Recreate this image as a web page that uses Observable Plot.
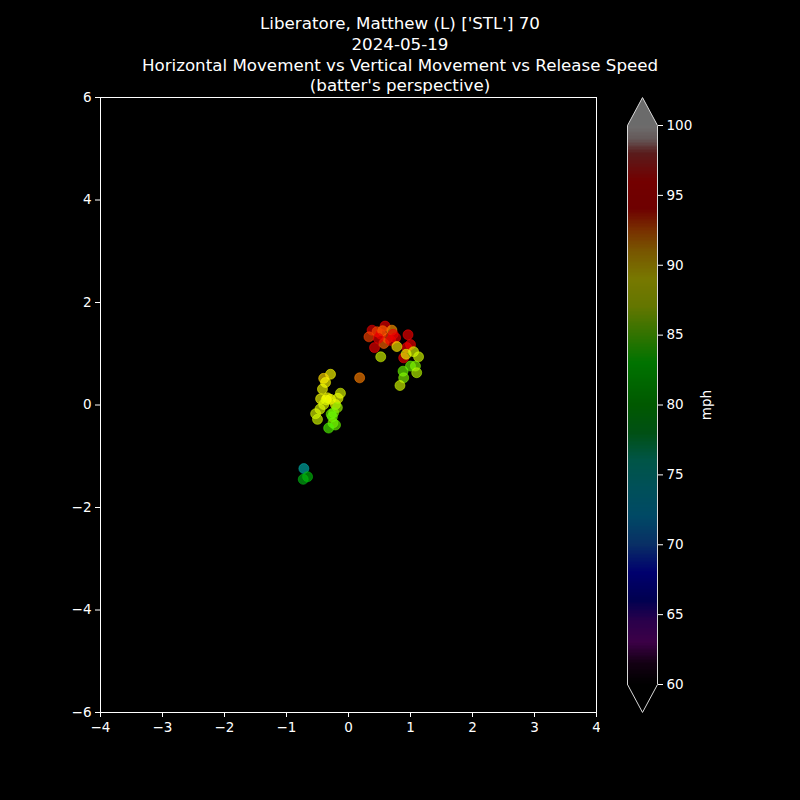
<!DOCTYPE html>
<html>
<head>
<meta charset="utf-8">
<script src="https://cdn.jsdelivr.net/npm/d3@7"></script>
<script src="https://cdn.jsdelivr.net/npm/@observablehq/plot@0.6"></script>
<style>
  html, body { margin: 0; padding: 0; background: #000; }
  #wrap { position: relative; width: 800px; height: 800px; background: #000; overflow: hidden; }
  #title { position: absolute; left: 0; top: 13px; width: 800px; text-align: center; color: #fff;
           font-family: "DejaVu Sans", sans-serif; font-size: 16.7px; line-height: 20.8px; z-index: 2; }
  #main, #cbar { position: absolute; top: 0; }
  #main { left: 0; }
  #cbar { left: 600px; }
</style>
</head>
<body>
<div id="wrap">
  <div id="title">Liberatore, Matthew (L) ['STL'] 70<br>2024-05-19<br>Horizontal Movement vs Vertical Movement vs Release Speed<br>(batter's perspective)</div>
  <div id="main"></div>
  <div id="cbar"></div>
</div>
<script>
// ---- data ----
const hMov = [0.38, 0.46, 0.59, 0.70, 0.33, 0.42, 0.52, 0.63, 0.57, 0.68, 0.76, 0.96, 1.00, 0.94, 0.78, 0.89, 0.93, 1.05, 1.13, 0.52, 0.88, 1.00, 1.08, 1.10, 0.89, 0.83, 0.18, 0.55, 0.48, 0.72,
  -0.29, -0.40, -0.37, -0.42, -0.13, -0.45, -0.34, -0.29, -0.36, -0.17, -0.21, -0.40, -0.18, -0.46, -0.24, -0.53, -0.26, -0.50, -0.25, -0.21, -0.32, -0.28,
  -0.72, -0.73, -0.66];
const vMov = [1.46, 1.43, 1.54, 1.46, 1.33, 1.12, 1.38, 1.30, 1.20, 1.26, 1.31, 1.37, 1.18, 1.12, 1.14, 0.92, 0.99, 1.04, 0.94, 0.94, 0.66, 0.76, 0.76, 0.63, 0.53, 0.38, 0.53, 1.45, 1.30, 1.38,
  0.60, 0.52, 0.44, 0.31, 0.23, 0.12, 0.14, 0.11, 0.10, 0.13, 0.01, 0.01, -0.05, -0.08, -0.15, -0.17, -0.23, -0.28, -0.35, -0.39, -0.45, -0.18,
  -1.24, -1.45, -1.40];
const speed = [94, 93, 95, 91.5, 93, 96, 95, 93, 92.5, 94, 95, 96, 95, 95.5, 89.5, 95.5, 88, 87.5, 87, 87, 85, 85, 85.5, 86.5, 85.5, 87, 92, 92.5, 94.5, 94,
  89, 90, 89, 88.5, 87.5, 88.5, 88.5, 88.5, 88.7, 88, 88, 87.5, 86, 87.5, 85.5, 87.5, 85, 87, 85.5, 85, 84.5, 85,
  75, 79, 79.5];

const xTicks = [-4, -3, -2, -1, 0, 1, 2, 3, 4];
const yTicks = [-6, -4, -2, 0, 2, 4, 6];
const cbTicks = [60, 65, 70, 75, 80, 85, 90, 95, 100];

// colormap stops (mph) and colours
const cStops  = [60, 61.5, 63, 64.5, 66, 68, 70, 72, 74, 76, 78, 80, 83, 85, 87, 89, 91, 92.5, 94, 96, 98, 99, 100];
const cColors = ["#000000", "#280028", "#800096", "#5a00a0", "#0000aa", "#0000eb", "#1464d7", "#009bd7", "#00aabe",
  "#00b496", "#00aa28", "#00be00", "#00f500", "#6af500", "#d2fa00", "#ffff00", "#ffb400", "#ff6400", "#eb0000",
  "#f50000", "#be3c3c", "#d7bebe", "#ebebeb"];
// ---------------------------------------

const pitches = hMov.map((h, i) => ({h, v: vMov[i], s: speed[i]}));
const fmt = d3.format("d");
const font = {background: "black", color: "white", fontFamily: "DejaVu Sans, sans-serif", fontSize: "13.5px", overflow: "visible"};

const main = Plot.plot({
  width: 800, height: 800,
  marginLeft: 100, marginRight: 204, marginTop: 97, marginBottom: 88,
  style: font,
  x: {domain: [-4, 4], ticks: xTicks, tickFormat: fmt, tickSize: 5, tickPadding: 5, label: null},
  y: {domain: [-6, 6], ticks: yTicks, tickFormat: fmt, tickSize: 5, tickPadding: 4, label: null},
  color: {type: "linear", domain: cStops, range: cColors, clamp: true},
  marks: [
    Plot.frame({stroke: "white", strokeWidth: 1}),
    Plot.dot(pitches, {x: "h", y: "v", fill: "s", stroke: "s", r: 5, fillOpacity: 0.65, strokeOpacity: 0.55, strokeWidth: 1})
  ]
});
document.getElementById("main").appendChild(main);

// colour bar
const dim = cColors.map(c => { const k = d3.rgb(c); return d3.rgb(k.r * 0.47, k.g * 0.47, k.b * 0.47).formatHex(); });
const bands = d3.range(60, 100, 0.1).map(lo => ({lo, hi: Math.min(100, lo + 0.13), c: lo + 0.05}));
const topTri = [{x: 0, y: 100}, {x: 0.5, y: 102}, {x: 1, y: 100}];
const botTri = [{x: 0, y: 60}, {x: 0.5, y: 58}, {x: 1, y: 60}];
const outline = [{x: 0, y: 60}, {x: 0, y: 100}, {x: 0.5, y: 102}, {x: 1, y: 100}, {x: 1, y: 60}, {x: 0.5, y: 58}, {x: 0, y: 60}];

const cbar = Plot.plot({
  width: 200, height: 800,
  marginLeft: 27, marginRight: 143, marginTop: 125, marginBottom: 116,
  style: font,
  x: {domain: [0, 1], axis: null},
  y: {domain: [60, 100], axis: "right", ticks: cbTicks, tickFormat: fmt, tickSize: 5, tickPadding: 4, label: null},
  color: {type: "linear", domain: cStops, range: dim, clamp: true},
  marks: [
    Plot.rect(bands, {x1: 0, x2: 1, y1: "lo", y2: "hi", fill: "c", shapeRendering: "crispEdges"}),
    Plot.line(topTri, {x: "x", y: "y", fill: "#6b6b6b", stroke: "none"}),
    Plot.line(botTri, {x: "x", y: "y", fill: "#000000", stroke: "none"}),
    Plot.line(outline, {x: "x", y: "y", stroke: "#d8d8d8", strokeWidth: 1, fill: "none"}),
    Plot.text(["mph"], {frameAnchor: "middle", dx: 64, rotate: -90, fill: "white", fontSize: 13.5})
  ]
});
document.getElementById("cbar").appendChild(cbar);
</script>
</body>
</html>
